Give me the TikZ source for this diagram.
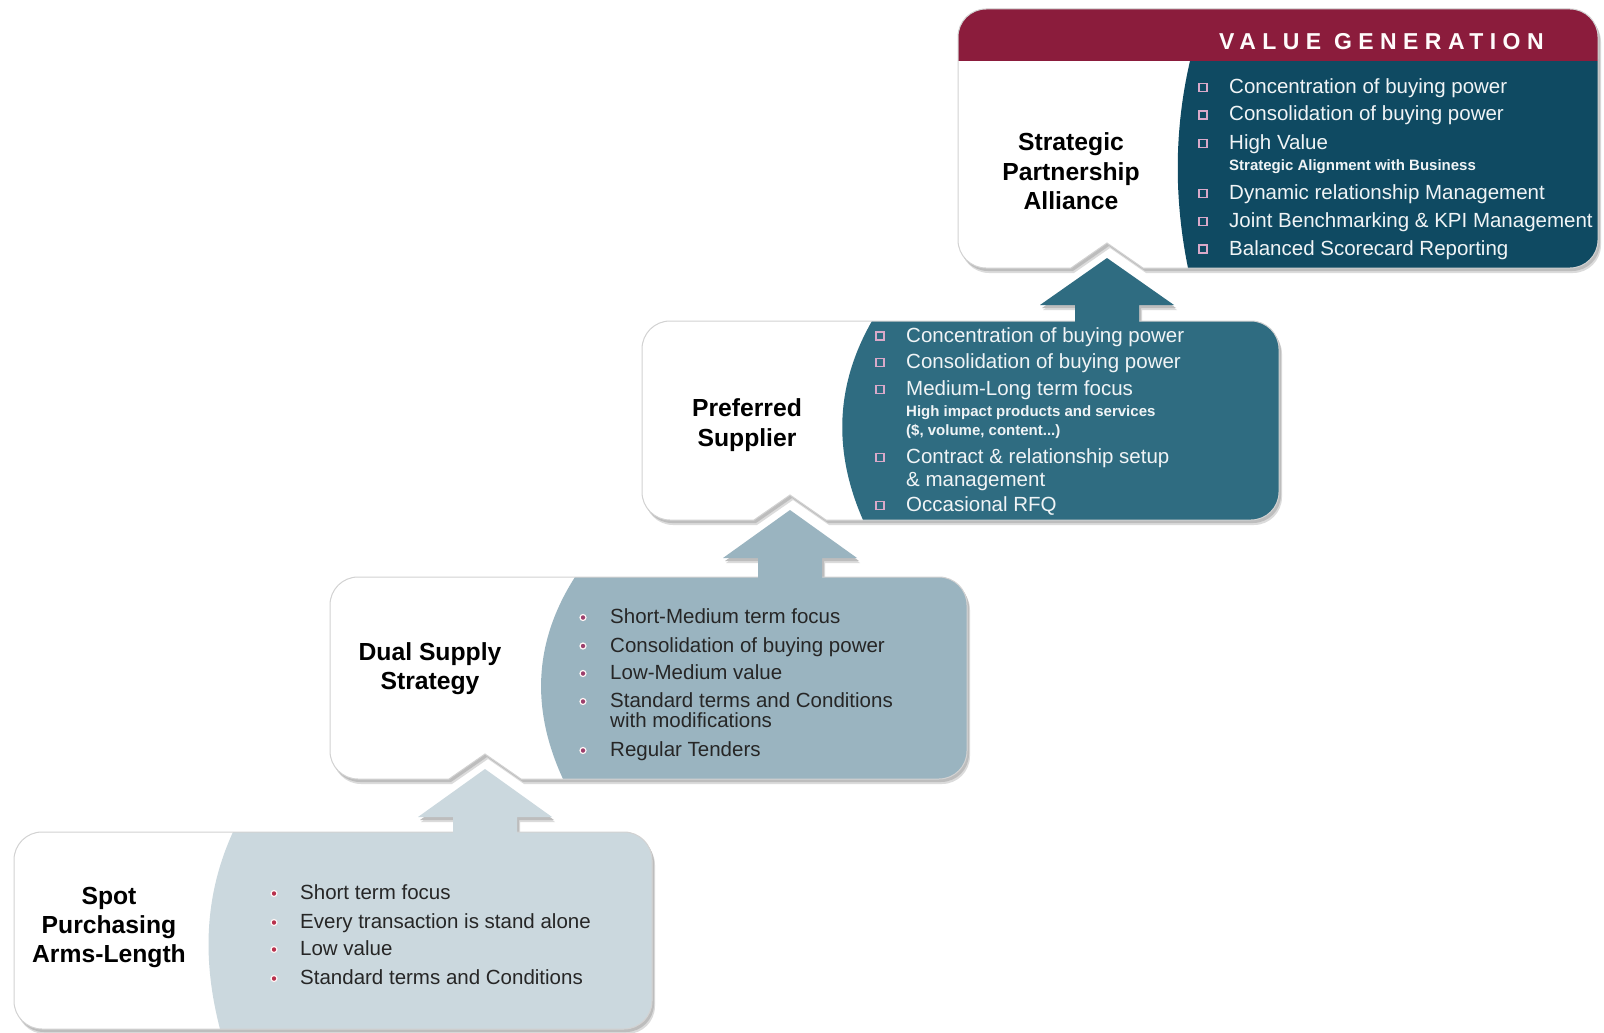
\documentclass[tikz,border=0pt]{standalone}
\usepackage{fontspec}
\setmainfont{Liberation Sans}

\definecolor{tintA}{HTML}{0F4A62}
\definecolor{tintB}{HTML}{2F6C81}
\definecolor{tintC}{HTML}{9AB4C0}
\definecolor{tintD}{HTML}{CBD8DE}
\definecolor{wine}{HTML}{8B1C3C}
\definecolor{edgegray}{HTML}{D2D2D2}
\definecolor{shadegray}{HTML}{BDBDBD}
\definecolor{txtdark}{HTML}{262626}
\definecolor{txtlight}{HTML}{F0F4F6}
\definecolor{sqpink}{HTML}{D9A9C9}
\definecolor{dotred}{HTML}{B8304C}
\definecolor{dotplum}{HTML}{9C3F6C}

% corner radius and Bezier control offset of the rounded corners
\def\crad{28}
\def\cctl{12.54}

% stage card: left, top, right, bottom, notch centre, notch depth
\newcommand{\stagebox}[6]{%
  (#1+\crad,#2) -- (#3-\crad,#2)
  .. controls (#3-\cctl,#2) and (#3,#2+\cctl) .. (#3,#2+\crad)
  -- (#3,#4-\crad)
  .. controls (#3,#4-\cctl) and (#3-\cctl,#4) .. (#3-\crad,#4)
  -- (#5+36,#4) -- (#5,#4-#6) -- (#5-36,#4)
  -- (#1+\crad,#4)
  .. controls (#1+\cctl,#4) and (#1,#4-\cctl) .. (#1,#4-\crad)
  -- (#1,#2+\crad)
  .. controls (#1,#2+\cctl) and (#1+\cctl,#2) .. (#1+\crad,#2) -- cycle}

% tinted right part: x at top, top, x of control points, x at bottom, bottom, right
\newcommand{\tintregion}[6]{%
  (#1,#2) .. controls (#3,{#2+(#5-#2)/3}) and (#3,{#2+2*(#5-#2)/3}) .. (#4,#5)
  -- (#4,#5+10) -- (#6+10,#5+10) -- (#6+10,#2-2) -- (#1,#2-2) -- cycle}

% upward block arrow: centre, tip, head base, stem foot
\newcommand{\liftarrow}[4]{%
  (#1,#2) -- (#1+67,#3) -- (#1+32,#3) -- (#1+32,#4)
  -- (#1-32,#4) -- (#1-32,#3) -- (#1-67,#3) -- cycle}

\begin{document}
\begin{tikzpicture}[x=1pt,y=-1pt,
  lbl/.style={anchor=base,inner sep=0pt,text=black,
    font=\fontsize{24.7}{29}\selectfont\bfseries},
  itemL/.style={anchor=base west,inner sep=0pt,text=txtlight,
    font=\fontsize{20.5}{24}\selectfont},
  itemD/.style={anchor=base west,inner sep=0pt,text=txtdark,
    font=\fontsize{20.5}{24}\selectfont},
  subL/.style={anchor=base west,inner sep=0pt,text=txtlight,
    font=\fontsize{15}{18}\selectfont\bfseries},
  sqbul/.style={rectangle,minimum size=8pt,inner sep=0pt,
    draw=sqpink,line width=1.6pt},
  dotbul/.style={circle,minimum size=6pt,inner sep=0pt,
    draw=white!85!pink,line width=1.2pt},
]
\useasboundingbox (0,0) rectangle (1604,1033);
\fill[white] (0,0) rectangle (1604,1033);

% ---------- shadows ----------
\begin{scope}[shift={(3,5)}]
  \fill[shadegray!55] \stagebox{958}{9}{1598}{268}{1107}{25};
  \fill[shadegray!55] \stagebox{642}{321}{1279}{520}{790}{25};
  \fill[shadegray!55] \stagebox{330}{577}{967}{779}{485}{25};
  \fill[shadegray!55] \stagebox{14}{832}{652}{1029}{300}{0};
  \fill[shadegray!55] \liftarrow{1107}{258}{305}{324};
  \fill[shadegray!55] \liftarrow{790}{510}{558}{581};
  \fill[shadegray!55] \liftarrow{485}{769}{817}{836};
\end{scope}
\begin{scope}[shift={(2,3)}]
  \fill[shadegray] \stagebox{958}{9}{1598}{268}{1107}{25};
  \fill[shadegray] \stagebox{642}{321}{1279}{520}{790}{25};
  \fill[shadegray] \stagebox{330}{577}{967}{779}{485}{25};
  \fill[shadegray] \stagebox{14}{832}{652}{1029}{300}{0};
  \fill[shadegray] \liftarrow{1107}{258}{305}{324};
  \fill[shadegray] \liftarrow{790}{510}{558}{581};
  \fill[shadegray] \liftarrow{485}{769}{817}{836};
\end{scope}

% ---------- stage 4: spot purchasing ----------
\fill[white] \stagebox{14}{832}{652}{1029}{300}{0};
\begin{scope}
  \clip \stagebox{14}{832}{652}{1029}{300}{0};
  \fill[tintD] \tintregion{233}{832}{203}{220}{1029}{652};
\end{scope}
\draw[edgegray,line width=1pt] \stagebox{14}{832}{652}{1029}{300}{0};

% ---------- stage 3: dual supply ----------
\fill[white] \stagebox{330}{577}{967}{779}{485}{25};
\begin{scope}
  \clip \stagebox{330}{577}{967}{779}{485}{25};
  \fill[tintC] \tintregion{575}{577}{532}{563}{779}{967};
\end{scope}
\draw[edgegray,line width=1pt] \stagebox{330}{577}{967}{779}{485}{25};

% ---------- stage 2: preferred supplier ----------
\fill[white] \stagebox{642}{321}{1279}{520}{790}{25};
\begin{scope}
  \clip \stagebox{642}{321}{1279}{520}{790}{25};
  \fill[tintB] \tintregion{872}{321}{834}{863}{520}{1279};
\end{scope}
\draw[edgegray,line width=1pt] \stagebox{642}{321}{1279}{520}{790}{25};

% ---------- stage 1: strategic partnership ----------
\fill[white] \stagebox{958}{9}{1598}{268}{1107}{25};
\begin{scope}
  \clip \stagebox{958}{9}{1598}{268}{1107}{25};
  \fill[tintA] \tintregion{1190}{61}{1174}{1188}{268}{1598};
  \fill[wine] (950,0) rectangle (1610,61);
\end{scope}
\draw[edgegray,line width=1pt] \stagebox{958}{9}{1598}{268}{1107}{25};

% ---------- arrows between stages ----------
\fill[tintD] \liftarrow{485}{769}{817}{836};
\fill[tintC] \liftarrow{790}{510}{558}{581};
\fill[tintB] \liftarrow{1107}{258}{305}{324};

% ---------- header ----------
\node[anchor=base west,inner sep=0pt,text=white!93!pink,
  font=\fontsize{23}{26}\selectfont\bfseries\addfontfeature{LetterSpace=28}]
  (head) at (1219,49.5) {VALUE GENERATION};

% ---------- stage labels ----------
\node[lbl] (s1a) at (1071,150) {Strategic};
\node[lbl] (s1b) at (1071,180) {Partnership};
\node[lbl] (s1c) at (1071,209) {Alliance};
\node[lbl] (s2a) at (747,416) {Preferred};
\node[lbl] (s2b) at (747,446) {Supplier};
\node[lbl] (s3a) at (430,660) {Dual Supply};
\node[lbl] (s3b) at (430,689) {Strategy};
\node[lbl] (s4a) at (109,904) {Spot};
\node[lbl] (s4b) at (109,933) {Purchasing};
\node[lbl] (s4c) at (109,962) {Arms-Length};

% ---------- stage 1 items ----------
\foreach \n/\yy in {1/93.5,2/121,3/149.5,4/199.5,5/227.5,6/255}
  \node[sqbul,fill=tintA] (q1-\n) at (1203,\yy-6) {};
\node[itemL] (t1-1) at (1229,93.5) {Concentration of buying power};
\node[itemL] (t1-2) at (1229,121) {Consolidation of buying power};
\node[itemL] (t1-3) at (1229,149.5) {High Value};
\node[subL]  (t1-4) at (1229,170) {Strategic Alignment with Business};
\node[itemL] (t1-5) at (1229,199.5) {Dynamic relationship Management};
\node[itemL] (t1-6) at (1229,227.5) {Joint Benchmarking \& KPI Management};
\node[itemL] (t1-7) at (1229,255) {Balanced Scorecard Reporting};

% ---------- stage 2 items ----------
\foreach \n/\yy in {1/342,2/368.5,3/395.5,4/463.5,5/511.5}
  \node[sqbul,fill=tintB] (q2-\n) at (880,\yy-6) {};
\node[itemL] (t2-1) at (906,342) {Concentration of buying power};
\node[itemL] (t2-2) at (906,368.5) {Consolidation of buying power};
\node[itemL] (t2-3) at (906,395.5) {Medium-Long term focus};
\node[subL]  (t2-4) at (906,416.5) {High impact products and services};
\node[subL]  (t2-5) at (906,435.5) {(\$, volume, content...)};
\node[itemL] (t2-6) at (906,463.5) {Contract \& relationship setup};
\node[itemL] (t2-7) at (906,486.5) {\& management};
\node[itemL] (t2-8) at (906,511.5) {Occasional RFQ};

% ---------- stage 3 items ----------
\foreach \n/\yy in {1/623.5,2/652,3/679.5,4/707.5,5/756.5}
  \node[dotbul,fill=dotplum] (d3-\n) at (583,\yy-6) {};
\node[itemD] (t3-1) at (610,623.5) {Short-Medium term focus};
\node[itemD] (t3-2) at (610,652) {Consolidation of buying power};
\node[itemD] (t3-3) at (610,679.5) {Low-Medium value};
\node[itemD] (t3-4) at (610,707.5) {Standard terms and Conditions};
\node[itemD] (t3-5) at (610,727.5) {with modifications};
\node[itemD] (t3-6) at (610,756.5) {Regular Tenders};

% ---------- stage 4 items ----------
\foreach \n/\yy in {1/899.5,2/928.5,3/955.5,4/984.5}
  \node[dotbul,fill=dotred] (d4-\n) at (274,\yy-6) {};
\node[itemD] (t4-1) at (300,899.5) {Short term focus};
\node[itemD] (t4-2) at (300,928.5) {Every transaction is stand alone};
\node[itemD] (t4-3) at (300,955.5) {Low value};
\node[itemD] (t4-4) at (300,984.5) {Standard terms and Conditions};
\end{tikzpicture}
\end{document}
